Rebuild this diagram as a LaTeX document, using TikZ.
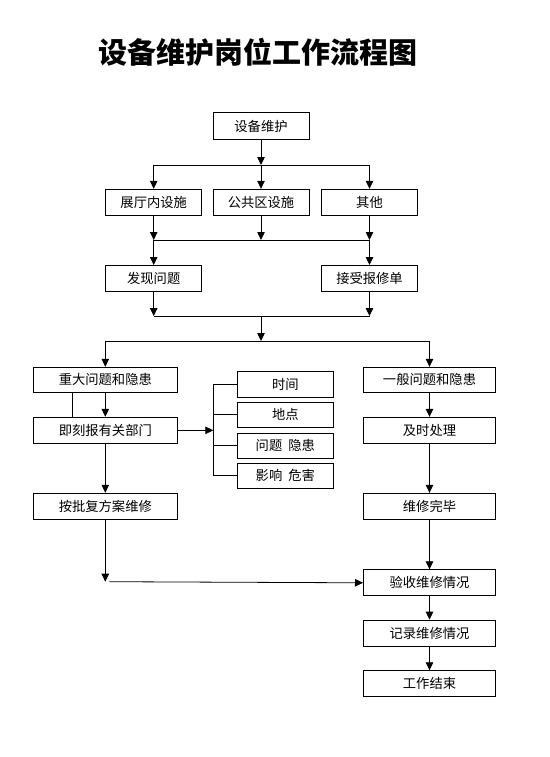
\documentclass[tikz,border=0pt]{standalone}
\usepackage{fontspec}
\newfontfamily\cjk{Noto Sans CJK SC}
\usetikzlibrary{arrows.meta,calc}
\begin{document}
\begin{tikzpicture}[x=1pt,y=-1pt,
  box/.style={draw,line width=1pt,minimum height=26pt,inner sep=0pt,font=\cjk\fontsize{13.3}{15}\selectfont},
  wA/.style={box,minimum width=96pt},
  wB/.style={box,minimum width=144pt},
  wC/.style={box,minimum width=132pt},
  ln/.style={line width=0.8pt},
  arr/.style={ln,-{Triangle[length=8pt,width=7.5pt]}}]
\useasboundingbox (0,0) rectangle (549,757);
\node[font=\cjk\bfseries\fontsize{29}{29}\selectfont] (title) at (257.5,52) {设备维护岗位工作流程图};
% boxes
\node[wA] (b0) at (261,126) {设备维护};
\node[wA] (b1) at (153.7,202.3) {展厅内设施};
\node[wA] (b2) at (261,202.3) {公共区设施};
\node[wA] (b3) at (369.5,202.3) {其他};
\node[wA] (c1) at (153.7,278.5) {发现问题};
\node[wA] (c2) at (369.5,278.5) {接受报修单};
\node[wB,minimum height=25pt] (d1) at (105.3,379.8) {重大问题和隐患};
\node[wC,minimum height=25pt] (d2) at (429.5,379.8) {一般问题和隐患};
\node[wB] (e1) at (105.3,430.3) {即刻报有关部门};
\node[wC] (e2) at (429.5,430.3) {及时处理};
\node[wA,minimum height=25.6pt] (l1) at (285.3,384.5) {时间};
\node[wA,minimum height=25pt] (l2) at (285.3,414.8) {地点};
\node[wA,minimum height=25pt] (l3) at (285.3,445.8) {问题\ \ 隐患};
\node[wA,minimum height=25pt] (l4) at (285.3,475.8) {影响\ \ 危害};
\node[wB] (f1) at (105.3,506.3) {按批复方案维修};
\node[wC] (f2) at (429.5,506.3) {维修完毕};
\node[wC] (g) at (429.5,582.8) {验收维修情况};
\node[wC] (h) at (429.5,633.2) {记录维修情况};
\node[wC] (i) at (429.5,683.8) {工作结束};
% junction coordinates
\coordinate (j1) at (261,165);
\coordinate (j1l) at (153.7,165);
\coordinate (j1r) at (369.5,165);
\coordinate (j2) at (261,240);
\coordinate (j2l) at (153.7,240);
\coordinate (j2r) at (369.5,240);
\coordinate (j3) at (261,316);
\coordinate (j3l) at (153.7,316);
\coordinate (j3r) at (369.5,316);
\coordinate (j4) at (261,341);
\coordinate (j4l) at (105.3,341);
\coordinate (j4r) at (429.5,341);
\coordinate (br) at (213.3,430.3);
\coordinate (brt) at (213.3,384.5);
\coordinate (brb) at (213.3,475.8);
\coordinate (k1) at (105.3,581.7);
\coordinate (k2) at (109.3,581.7);
% top
\draw[arr] (b0) -- (j1);
\draw[ln] (j1l) -- (j1r);
\draw[arr] (j1l) -- (b1);
\draw[arr] (j1) -- (b2);
\draw[arr] (j1r) -- (b3);
\draw[arr] (b1) -- (j2l);
\draw[arr] (b2) -- (j2);
\draw[arr] (b3) -- (j2r);
\draw[ln] (j2l) -- (j2r);
\draw[arr] (j2l) -- (c1);
\draw[arr] (j2r) -- (c2);
\draw[arr] (c1) -- (j3l);
\draw[arr] (c2) -- (j3r);
\draw[ln] (j3l) -- (j3r);
\draw[arr] (j3) -- (j4);
\draw[ln] (j4l) -- (j4r);
\draw[arr] (j4l) -- (d1);
\draw[arr] (j4r) -- (d2);
% left column
\draw[arr] (d1) -- (e1);
\draw[ln] ([xshift=-33pt]d1.south) -- ([xshift=-33pt]e1.north);
\draw[arr] (e1) -- (br);
\draw[ln] (brt) -- (brb);
\draw[ln] (brt) -- (l1.west);
\draw[ln] (l2.west -| br) -- (l2.west);
\draw[ln] (l3.west -| br) -- (l3.west);
\draw[ln] (brb) -- (l4.west);
\draw[arr] (e1) -- (f1);
\draw[arr] (f1) -- (k1);
\draw[arr] (k2) -- (g.west);
% right column
\draw[arr] (d2) -- (e2);
\draw[arr] (e2) -- (f2);
\draw[arr] (f2) -- (g);
\draw[arr] (g) -- (h);
\draw[arr] (h) -- (i);
\end{tikzpicture}
\end{document}
